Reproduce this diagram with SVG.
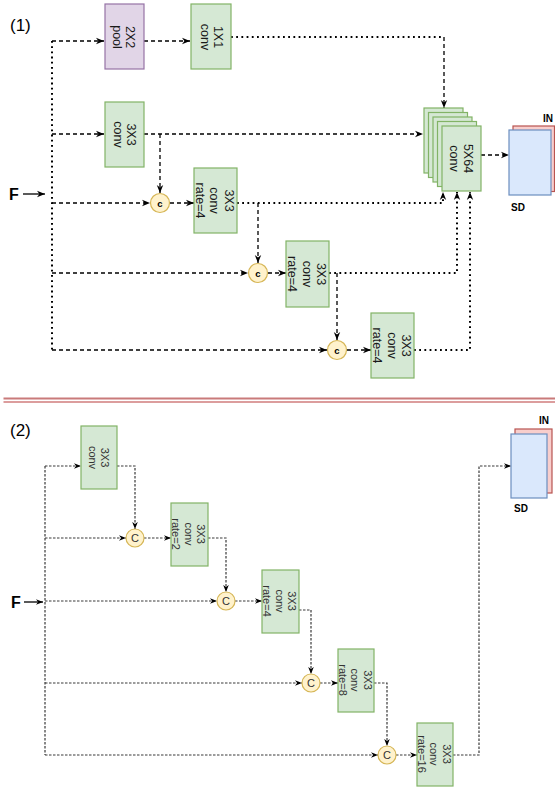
<svg xmlns="http://www.w3.org/2000/svg" width="555" height="789" viewBox="0 0 555 789">
<style>
text{font-family:"Liberation Sans",Arial,sans-serif;}
.g{fill:#d5e8d4;stroke:#82b366;stroke-width:1.2;}
.p{fill:#e1d5e7;stroke:#9673a6;stroke-width:1.2;}
.y{fill:#fff2cc;stroke:#d6b656;stroke-width:1.2;}
.b{fill:#dae8fc;stroke:#6c8ebf;stroke-width:1.2;}
.r{fill:#f8cecc;stroke:#b85450;stroke-width:1.2;}
.t1{font-size:12.5px;fill:#1a1a1a;text-anchor:middle;}
.t2{font-size:11px;fill:#333;text-anchor:middle;}
.da{fill:none;stroke:#000;stroke-width:1.3;stroke-dasharray:4,3;}
.do{fill:none;stroke:#000;stroke-width:2;stroke-dasharray:1.8,3.4;}
.d2{fill:none;stroke:#3a3a3a;stroke-width:1.2;stroke-dasharray:2.5,1.5;}
.so{fill:none;stroke:#000;stroke-width:1.3;}
.lab{font-size:17px;fill:#000;}
.F{font-size:16px;font-weight:bold;fill:#000;}
.sm{font-size:10px;font-weight:bold;fill:#000;}
</style>
<defs>
<marker id="ar" viewBox="0 0 10 10" refX="10" refY="5" markerWidth="8" markerHeight="8" markerUnits="userSpaceOnUse" orient="auto">
<path d="M0,1 L10,5 L0,9 L3,5 z" fill="#000"/>
</marker>
<marker id="ar2" viewBox="0 0 10 10" refX="10" refY="5" markerWidth="7" markerHeight="7" markerUnits="userSpaceOnUse" orient="auto">
<path d="M0,1 L10,5 L0,9 L3,5 z" fill="#000"/>
</marker>
</defs>

<!-- labels -->
<text class="lab" x="10" y="31">(1)</text>
<text class="lab" x="10" y="436">(2)</text>
<text class="F" x="9" y="200">F</text>
<text class="F" x="11" y="608">F</text>

<!-- separator -->
<g id="separator">
<line x1="3.5" y1="398.5" x2="555" y2="398.5" stroke="#c97a7a" stroke-width="2"/>
<line x1="3.5" y1="402" x2="555" y2="402" stroke="#d07c7c" stroke-width="1.3"/>
</g>

<!-- connectors -->
<g id="connectors">
<!-- section 1 -->
<line class="so" x1="23" y1="194" x2="45" y2="194" marker-end="url(#ar)"/>
<line class="do" x1="52" y1="41" x2="52" y2="350"/>
<line class="da" x1="52" y1="41" x2="104" y2="41" marker-end="url(#ar)"/>
<line class="da" x1="144" y1="41" x2="190" y2="41" marker-end="url(#ar)"/>
<line class="do" x1="231" y1="37" x2="444" y2="37"/>
<line class="da" x1="444" y1="37" x2="444" y2="108" marker-end="url(#ar)"/>
<line class="da" x1="52" y1="134" x2="104" y2="134" marker-end="url(#ar)"/>
<line class="da" x1="144" y1="134" x2="423" y2="134" marker-end="url(#ar)"/>
<line class="da" x1="160" y1="134" x2="160" y2="193" marker-end="url(#ar)"/>
<line class="da" x1="52" y1="203" x2="150" y2="203" marker-end="url(#ar)"/>
<line class="da" x1="170" y1="203" x2="194" y2="203" marker-end="url(#ar)"/>
<path class="do" d="M237,203 L443,203 L443,192" marker-end="url(#ar)"/>
<line class="da" x1="258" y1="203" x2="258" y2="263" marker-end="url(#ar)"/>
<line class="da" x1="52" y1="273" x2="248" y2="273" marker-end="url(#ar)"/>
<line class="da" x1="268" y1="273" x2="286" y2="273" marker-end="url(#ar)"/>
<path class="do" d="M329,273 L457,273 L457,192" marker-end="url(#ar)"/>
<line class="da" x1="337" y1="273" x2="337" y2="340" marker-end="url(#ar)"/>
<line class="da" x1="52" y1="350" x2="327" y2="350" marker-end="url(#ar)"/>
<line class="da" x1="347" y1="350" x2="371" y2="350" marker-end="url(#ar)"/>
<path class="do" d="M414,350 L470,350 L470,192" marker-end="url(#ar)"/>
<line class="da" x1="481" y1="155" x2="509" y2="155" marker-end="url(#ar)"/>
<!-- section 2 -->
<line class="so" x1="24" y1="602" x2="43" y2="602" marker-end="url(#ar2)"/>
<line class="d2" x1="45" y1="466" x2="45" y2="755"/>
<line class="d2" x1="45" y1="466" x2="81" y2="466" marker-end="url(#ar2)"/>
<path class="d2" d="M117,466 L135,466 L135,529" marker-end="url(#ar2)"/>
<line class="d2" x1="45" y1="538" x2="126" y2="538" marker-end="url(#ar2)"/>
<line class="d2" x1="144" y1="538" x2="171" y2="538" marker-end="url(#ar2)"/>
<path class="d2" d="M208,538 L226,538 L226,592" marker-end="url(#ar2)"/>
<line class="d2" x1="45" y1="601" x2="217" y2="601" marker-end="url(#ar2)"/>
<line class="d2" x1="235" y1="601" x2="262" y2="601" marker-end="url(#ar2)"/>
<path class="d2" d="M299,610 L311,610 L311,674" marker-end="url(#ar2)"/>
<line class="d2" x1="45" y1="683" x2="302" y2="683" marker-end="url(#ar2)"/>
<line class="d2" x1="320" y1="683" x2="338" y2="683" marker-end="url(#ar2)"/>
<path class="d2" d="M374,683 L387,683 L387,746" marker-end="url(#ar2)"/>
<line class="d2" x1="45" y1="755" x2="378" y2="755" marker-end="url(#ar2)"/>
<line class="d2" x1="396" y1="755" x2="417" y2="755" marker-end="url(#ar2)"/>
<path class="d2" d="M453,755 L479,755 L479,466 L511,466" marker-end="url(#ar2)"/>
</g>

<!-- section 1 nodes -->
<g id="pool">
<rect class="p" x="105" y="4" width="39" height="65"/>
<text class="t1" transform="translate(123,37) rotate(90)"><tspan x="0" y="-2.5">2X2</tspan><tspan x="0" y="10.5">pool</tspan></text>
</g>
<g id="conv1x1">
<rect class="g" x="191" y="4" width="40" height="65"/>
<text class="t1" transform="translate(211,37) rotate(90)"><tspan x="0" y="-2.5">1X1</tspan><tspan x="0" y="10.5">conv</tspan></text>
</g>
<g id="conv3x3a">
<rect class="g" x="105" y="102" width="39" height="65"/>
<text class="t1" transform="translate(124.5,134.5) rotate(90)"><tspan x="0" y="-2.5">3X3</tspan><tspan x="0" y="10.5">conv</tspan></text>
</g>
<g id="c1a">
<circle class="y" cx="160" cy="203" r="9.5"/>
<text x="160" y="206.5" font-size="9.5" font-weight="bold" text-anchor="middle">c</text>
</g>
<g id="conv_r4a">
<rect class="g" x="194" y="168" width="43" height="65"/>
<text class="t1" transform="translate(214.5,200.5) rotate(90)"><tspan x="0" y="-10">3X3</tspan><tspan x="0" y="4.5">conv</tspan><tspan x="0" y="19">rate=4</tspan></text>
</g>
<g id="c2a">
<circle class="y" cx="258" cy="273" r="9.5"/>
<text x="258" y="276.5" font-size="9.5" font-weight="bold" text-anchor="middle">c</text>
</g>
<g id="conv_r4b">
<rect class="g" x="286" y="241" width="43" height="66"/>
<text class="t1" transform="translate(307,274) rotate(90)"><tspan x="0" y="-10">3X3</tspan><tspan x="0" y="4.5">conv</tspan><tspan x="0" y="19">rate=4</tspan></text>
</g>
<g id="c3a">
<circle class="y" cx="337" cy="350" r="9.5"/>
<text x="337" y="353.5" font-size="9.5" font-weight="bold" text-anchor="middle">c</text>
</g>
<g id="conv_r4c">
<rect class="g" x="371" y="313" width="43" height="65"/>
<text class="t1" transform="translate(392,345.5) rotate(90)"><tspan x="0" y="-10">3X3</tspan><tspan x="0" y="4.5">conv</tspan><tspan x="0" y="19">rate=4</tspan></text>
</g>
<g id="stack5x64">
<rect class="g" x="424" y="108" width="39" height="65"/>
<rect class="g" x="428.5" y="112.5" width="39" height="65"/>
<rect class="g" x="433" y="117" width="39" height="65"/>
<rect class="g" x="437.5" y="121.5" width="39" height="65"/>
<rect class="g" x="442" y="126" width="39" height="65"/>
<text class="t1" font-size="13" transform="translate(461,158.5) rotate(90)"><tspan x="0" y="-3">5X64</tspan><tspan x="0" y="11.5">conv</tspan></text>
</g>
<g id="sdin1">
<rect class="r" x="513" y="126" width="41.5" height="65.5"/>
<rect class="b" x="509" y="130" width="42" height="65"/>
<text class="sm" x="543" y="122" font-size="11">IN</text>
<text class="sm" x="511" y="211">SD</text>
</g>

<!-- section 2 nodes -->
<g id="convA">
<rect class="g" x="81" y="426" width="36" height="63"/>
<text class="t2" transform="translate(98.5,457.5) rotate(90)"><tspan x="0" y="-2">3X3</tspan><tspan x="0" y="10">conv</tspan></text>
</g>
<g id="cB1">
<circle class="y" cx="135" cy="538" r="9"/>
<text x="135" y="542" font-size="11" fill="#333" text-anchor="middle">C</text>
</g>
<g id="convB">
<rect class="g" x="171" y="503" width="37" height="63"/>
<text class="t2" transform="translate(188.5,534) rotate(90)"><tspan x="0" y="-8.5">3X3</tspan><tspan x="0" y="3.8">conv</tspan><tspan x="0" y="16.1">rate=2</tspan></text>
</g>
<g id="cB2">
<circle class="y" cx="226" cy="601" r="9"/>
<text x="226" y="605" font-size="11" fill="#333" text-anchor="middle">C</text>
</g>
<g id="convC">
<rect class="g" x="262" y="570" width="37" height="63"/>
<text class="t2" transform="translate(279.5,601) rotate(90)"><tspan x="0" y="-8.5">3X3</tspan><tspan x="0" y="3.8">conv</tspan><tspan x="0" y="16.1">rate=4</tspan></text>
</g>
<g id="cB3">
<circle class="y" cx="311" cy="683" r="9"/>
<text x="311" y="687" font-size="11" fill="#333" text-anchor="middle">C</text>
</g>
<g id="convD">
<rect class="g" x="338" y="649" width="36" height="63"/>
<text class="t2" transform="translate(355,680) rotate(90)"><tspan x="0" y="-8.5">3X3</tspan><tspan x="0" y="3.8">conv</tspan><tspan x="0" y="16.1">rate=8</tspan></text>
</g>
<g id="cB4">
<circle class="y" cx="387" cy="755" r="9"/>
<text x="387" y="759" font-size="11" fill="#333" text-anchor="middle">C</text>
</g>
<g id="convE">
<rect class="g" x="417" y="723" width="36" height="63"/>
<text class="t2" transform="translate(434,754) rotate(90)"><tspan x="0" y="-8.5">3X3</tspan><tspan x="0" y="3.8">conv</tspan><tspan x="0" y="16.1">rate=16</tspan></text>
</g>
<g id="sdin2">
<rect class="r" x="515" y="429" width="37" height="64"/>
<rect class="b" x="511" y="434" width="36" height="64"/>
<text class="sm" x="539" y="424">IN</text>
<text class="sm" x="514" y="512">SD</text>
</g>
</svg>
